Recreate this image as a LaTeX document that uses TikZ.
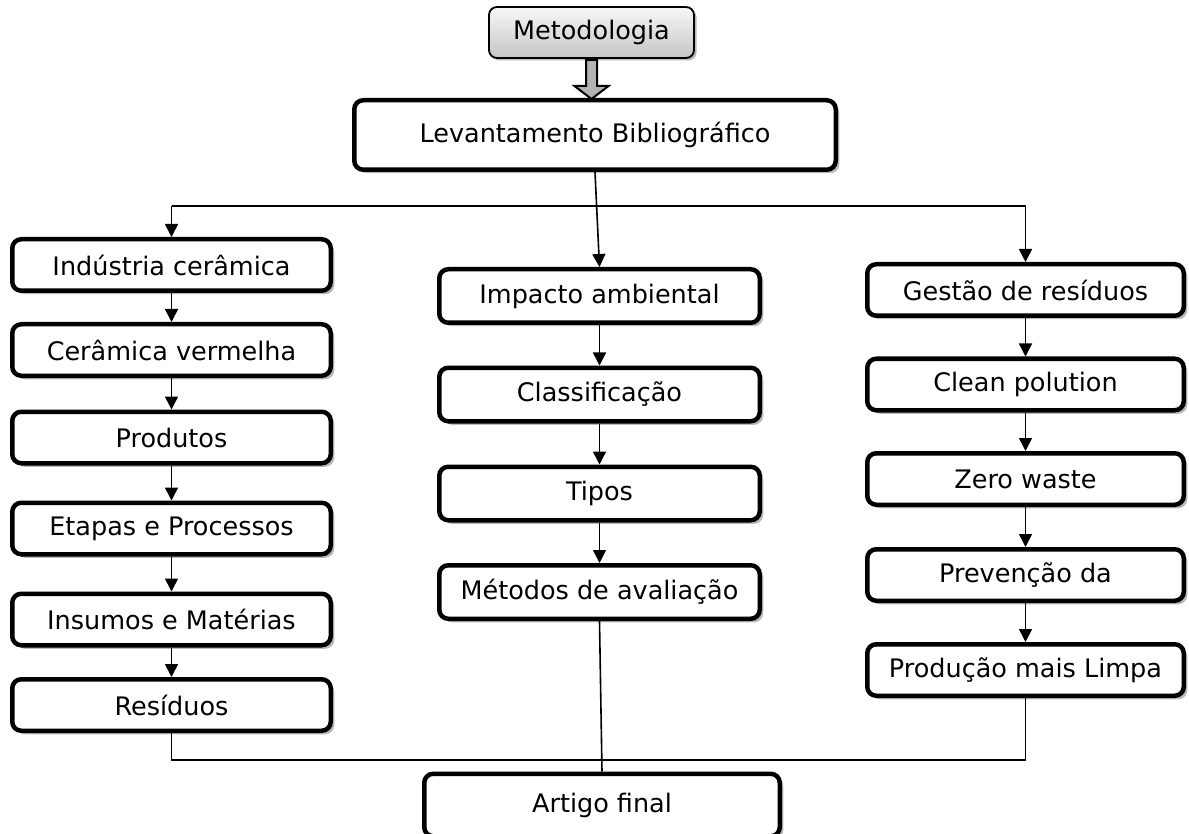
\documentclass[tikz,border=0pt]{standalone}
\usepackage{fontspec}
\setmainfont{DejaVu Sans}
\usetikzlibrary{arrows.meta,shadows,calc}
\newcommand{\fs}{\fontsize{25.5}{30}\selectfont}
\tikzset{
  box/.style={draw, line width=4.5pt, rounded corners=9pt, fill=white, inner sep=0pt,
    align=center, font=\fs,
    drop shadow={shadow xshift=3.5pt, shadow yshift=-3.5pt, fill=gray!55, opacity=1}},
  lbox/.style={box, minimum width=318.5pt, minimum height=51.5pt},
  mbox/.style={box, minimum width=320.5pt, minimum height=53.5pt},
  rbox/.style={box, minimum width=316.5pt, minimum height=51.5pt},
  arr/.style={line width=1.6pt, -{Triangle[width=13pt,length=13pt]}},
  conn/.style={line width=1.6pt}
}
\begin{document}
\begin{tikzpicture}[x=1pt,y=-1pt]
\useasboundingbox (0,0) rectangle (1189,834);
% top
\node[draw, line width=1.8pt, rounded corners=8pt, top color=gray!6, bottom color=gray!45,
  minimum width=205pt, minimum height=51pt, inner sep=0pt, font=\fs,
  drop shadow={shadow xshift=2.5pt, shadow yshift=-2.5pt, fill=gray!55, opacity=1}]
  (met) at (591.5,32.5) {Metodologia};
\node[box, minimum width=481.5pt, minimum height=69.5pt] (lev) at (595,135) {Levantamento Bibliográfico};
% left column
\node[lbox] (ind) at (171.5,265) {Indústria cerâmica};
\node[lbox] (cer) at (171.5,350) {Cerâmica vermelha};
\node[lbox] (pro) at (171.5,437.5) {Produtos};
\node[lbox] (eta) at (171.5,528.5) {Etapas e Processos};
\node[lbox] (ins) at (171.5,619.5) {Insumos e Matérias};
\node[lbox] (res) at (171.5,705) {Resíduos};
% middle column
\node[mbox] (imp) at (599.5,296) {Impacto ambiental};
\node[mbox] (cla) at (599.5,394.5) {Classificação};
\node[mbox] (tip) at (599.5,493.5) {Tipos};
\node[mbox] (mav) at (599.5,592) {Métodos de avaliação};
% right column
\node[rbox] (ges) at (1025.5,290) {Gestão de resíduos};
\node[rbox] (cle) at (1025.5,384.5) {Clean polution};
\node[rbox] (zer) at (1025.5,479) {Zero waste};
\node[rbox] (pre) at (1025.5,575) {Prevenção da};
\node[rbox] (prd) at (1025.5,670) {Produção mais Limpa};
% final
\node[box, minimum width=355.5pt, minimum height=62.5pt] (art) at (602,805) {Artigo final};
% hollow block arrow
\draw[fill=gray!60, line width=2pt, line join=miter]
  ($(met.south)+(-5.5,1)$) -- ($(met.south)+(5.5,1)$)
  -- ($(met.south |- lev.north)+(5.5,-12)$) -- ($(met.south |- lev.north)+(17,-12)$)
  -- ($(met.south |- lev.north)+(0,1)$)
  -- ($(met.south |- lev.north)+(-17,-12)$) -- ($(met.south |- lev.north)+(-5.5,-12)$) -- cycle;
% distribution
\coordinate (hy) at (595,206);
\draw[arr] (lev.south) -- (imp.north);
\draw[conn] (ind.north |- hy) -- (ges.north |- hy);
\draw[arr] (ind.north |- hy) -- (ind.north);
\draw[arr] (ges.north |- hy) -- (ges.north);
% column arrows
\draw[arr] (ind.south) -- (cer.north);
\draw[arr] (cer.south) -- (pro.north);
\draw[arr] (pro.south) -- (eta.north);
\draw[arr] (eta.south) -- (ins.north);
\draw[arr] (ins.south) -- (res.north);
\draw[arr] (imp.south) -- (cla.north);
\draw[arr] (cla.south) -- (tip.north);
\draw[arr] (tip.south) -- (mav.north);
\draw[arr] (ges.south) -- (cle.north);
\draw[arr] (cle.south) -- (zer.north);
\draw[arr] (zer.south) -- (pre.north);
\draw[arr] (pre.south) -- (prd.north);
% bottom
\coordinate (by) at (600,760);
\draw[conn] (res.south) -- (res.south |- by) -- (prd.south |- by) -- (prd.south);
\draw[conn] (mav.south) -- (art.north);
\end{tikzpicture}
\end{document}
